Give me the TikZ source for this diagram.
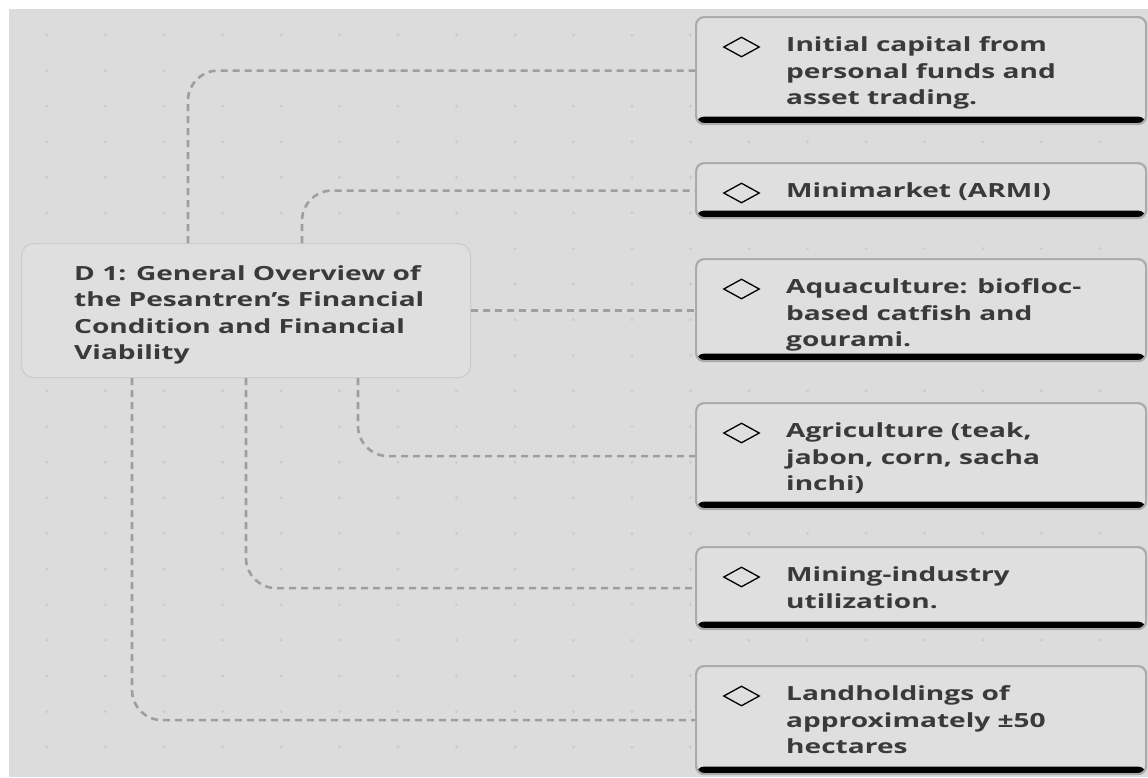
\documentclass[tikz,border=0pt]{standalone}
\usepackage{fontspec}
\usetikzlibrary{shapes.geometric}
\IfFontExistsTF{Open Sans SemiBold}
 {\newfontfamily\labelfamily{Open Sans SemiBold}[FakeStretch=1.44]\newcommand\labelfont{\labelfamily}}
 {\newfontfamily\labelfamily{Open Sans}[FakeStretch=1.44]\newcommand\labelfont{\labelfamily\bfseries}}
\definecolor{pagebg}{HTML}{DCDCDC}
\definecolor{gridc}{HTML}{CBCBCB}
\definecolor{cardfill}{HTML}{DFDFDF}
\definecolor{cardedge}{HTML}{ABABAB}
\definecolor{mainedge}{HTML}{CCCCCC}
\definecolor{inkc}{HTML}{3A3A3A}
\definecolor{linkc}{HTML}{9E9E9E}
\tikzset{
  card/.style={rectangle, rounded corners=8pt, draw=cardedge, line width=2.2pt,
    fill=cardfill, minimum width=450pt, inner sep=0pt, anchor=north west,
    path picture={\fill[black] ([yshift=7.5pt]path picture bounding box.south west)
      rectangle (path picture bounding box.south east);}},
  mainbox/.style={rectangle, rounded corners=12pt, draw=mainedge, line width=1.2pt,
    fill=cardfill, minimum width=449pt, minimum height=134pt, inner sep=0pt, anchor=north west},
  cardtext/.style={anchor=north west, inner sep=0pt, align=left, text=inkc,
    font=\labelfont\fontsize{19.5pt}{26.5pt}\selectfont},
  icon/.style={diamond, draw=black, line width=1.3pt, minimum width=36pt,
    minimum height=20pt, inner sep=0pt},
  conn/.style={draw=linkc, line width=2.6pt, dash pattern=on 7pt off 5pt, rounded corners=30pt}
}
\newcommand\fl{\rule{0pt}{16pt}}
\begin{document}
\begin{tikzpicture}[x=1pt,y=-1pt]
\useasboundingbox (0,0) rectangle (1148,777);
\fill[white] (0,0) rectangle (1148,777);
\fill[pagebg] (9,9) rectangle (1148,777);
% dot grid
\foreach \i in {0,...,18}
  \foreach \j in {0,...,20}
    \fill[gridc] (47+58.5*\i, 35+35.6*\j) circle (1.6pt);

% central topic
\node[mainbox] (main) at (21,243) {};
\node[cardtext] (maintext) at (74,264) {\fl D 1: General Overview of\\the Pesantren’s Financial\\Condition and Financial\\Viability};

% cards
\node[card, minimum height=107pt] (c1) at (695,16) {};
\node[card, minimum height=55pt]  (c2) at (695,162) {};
\node[card, minimum height=102pt] (c3) at (695,258) {};
\node[card, minimum height=106pt] (c4) at (695,402) {};
\node[card, minimum height=82pt]  (c5) at (695,546) {};
\node[card, minimum height=108pt] (c6) at (695,665) {};

\foreach \c in {c1,c2,c3,c4,c5,c6}
  \node[icon] (\c-icon) at ([xshift=46.5pt,yshift=-31pt]\c.north west) {};

\node[cardtext] (c1-text) at ([xshift=91pt,yshift=-19.5pt]c1.north west) {\fl Initial capital from\\personal funds and\\asset trading.};
\node[cardtext] (c2-text) at ([xshift=91pt,yshift=-19.5pt]c2.north west) {\fl Minimarket (ARMI)};
\node[cardtext] (c3-text) at ([xshift=91pt,yshift=-19.5pt]c3.north west) {\fl Aquaculture: biofloc-\\based catfish and\\gourami.};
\node[cardtext] (c4-text) at ([xshift=91pt,yshift=-19.5pt]c4.north west) {\fl Agriculture (teak,\\jabon, corn, sacha\\inchi)};
\node[cardtext] (c5-text) at ([xshift=91pt,yshift=-19.5pt]c5.north west) {\fl Mining-industry\\utilization.};
\node[cardtext] (c6-text) at ([xshift=91pt,yshift=-19.5pt]c6.north west) {\fl Landholdings of\\approximately ±50\\hectares};

% connectors
\draw[conn] ([xshift=167pt]main.north west) |- (c1.west);
\draw[conn] ([xshift=281pt]main.north west) |- (c2.west);
\draw[conn] (main.east) -- (main.east -| c3.west);
\draw[conn] ([xshift=337pt]main.south west) |- (c4.west);
\draw[conn] ([xshift=225pt]main.south west) |- (c5.west);
\draw[conn] ([xshift=111pt]main.south west) |- (c6.west);
\end{tikzpicture}
\end{document}
